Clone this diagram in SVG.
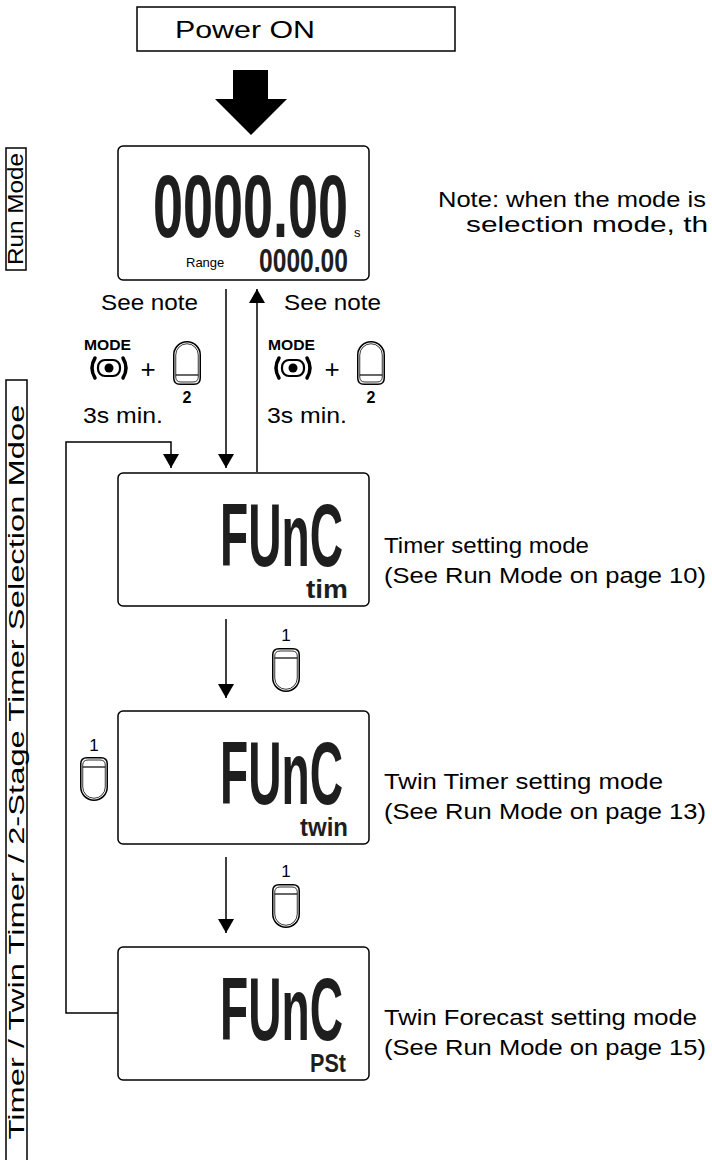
<svg xmlns="http://www.w3.org/2000/svg" xmlns:xlink="http://www.w3.org/1999/xlink" width="712" height="1160" viewBox="0 0 712 1160">
<style>
.t{font-family:"Liberation Sans",Arial,sans-serif;fill:#000}
.lbl{font-size:22px}
.box{fill:#fff;stroke:#000;stroke-width:1.5}
.lcd{fill:#fff;stroke:#000;stroke-width:1.5}
.seg{font-family:"Liberation Sans",Arial,sans-serif;fill:#1e1e1e}
.ln{fill:none;stroke:#000;stroke-width:1.5}
</style>
<defs>
<marker id="ah" viewBox="0 0 14 16" refX="14" refY="8" markerWidth="14" markerHeight="16" markerUnits="userSpaceOnUse" orient="auto"><path d="M0,0 L14,8 L0,16 z" fill="#000"/></marker>
<g id="modeIcon">
<rect x="-11" y="-8" width="22" height="16" rx="7" fill="none" stroke="#000" stroke-width="2.2"/>
<circle r="4.5" fill="#000"/>
<path d="M-14,-10 Q-20,0 -14,10" fill="none" stroke="#000" stroke-width="3.5" stroke-linecap="round"/>
<path d="M14,-10 Q20,0 14,10" fill="none" stroke="#000" stroke-width="3.5" stroke-linecap="round"/>
</g>
<g id="pbtn">
<path d="M0.75,14 A13.25,13.25 0 0 1 27.25,14 V37 Q27.25,43.25 21,43.25 H7 Q0.75,43.25 0.75,37 Z" fill="#fff" stroke="#000" stroke-width="1.5"/>
<path d="M2.75,14 A11.25,11.25 0 0 1 25.25,14 V36 Q25.25,41 20,41 H8 Q2.75,41 2.75,36 Z" fill="none" stroke="#000" stroke-width="0.8"/>
<line x1="2.75" y1="34" x2="25.25" y2="34" stroke="#000" stroke-width="1.2"/>
</g>
</defs>

<g id="power-on">
<rect class="box" x="137" y="7" width="318" height="44"/>
<text class="t" font-size="23" x="175" y="38" textLength="140" lengthAdjust="spacingAndGlyphs">Power ON</text>
</g>

<g id="start-arrow">
<polygon points="233,70 268,70 268,99 287,99 251,135 215,99 233,99" fill="#000"/>
</g>

<g id="label-run-mode">
<rect class="box" x="6" y="148" width="20" height="122"/>
<text class="t lbl" transform="translate(23,209) rotate(-90)" text-anchor="middle" textLength="112" lengthAdjust="spacingAndGlyphs">Run Mode</text>
</g>

<g id="label-selection-mode">
<rect class="box" x="6" y="380" width="21" height="790"/>
<text class="t lbl" transform="translate(24,772) rotate(-90)" text-anchor="middle" textLength="735" lengthAdjust="spacingAndGlyphs">Timer / Twin Timer / 2-Stage Timer Selection Mdoe</text>
</g>

<g id="run-mode-display">
<rect class="lcd" x="118" y="146" width="251" height="134" rx="5"/>
<text class="seg" x="153" y="237" font-size="89" font-weight="bold" textLength="195" lengthAdjust="spacingAndGlyphs">0000.00</text>
<text class="t" x="354" y="237" font-size="13">s</text>
<text class="t" x="186" y="267" font-size="13">Range</text>
<text class="seg" x="259" y="272" font-size="33" font-weight="bold" textLength="89" lengthAdjust="spacingAndGlyphs">0000.00</text>
</g>

<g id="note">
<text class="t lbl" x="438" y="207" textLength="268" lengthAdjust="spacingAndGlyphs">Note: when the mode is</text>
<text class="t lbl" x="466" y="232" textLength="242" lengthAdjust="spacingAndGlyphs">selection mode, th</text>
</g>

<g id="key-to-selection">
<text class="t lbl" x="101" y="310" textLength="97" lengthAdjust="spacingAndGlyphs">See note</text>
<text class="t" x="84" y="350" font-size="15" font-weight="bold" textLength="47" lengthAdjust="spacingAndGlyphs">MODE</text>
<use xlink:href="#modeIcon" transform="translate(109,368)"/>
<text class="t" x="148" y="378" font-size="26" text-anchor="middle" font-weight="200">+</text>
<use xlink:href="#pbtn" transform="translate(173,341)"/>
<text class="t" x="187" y="403" font-size="16" font-weight="bold" text-anchor="middle">2</text>
<text class="t lbl" x="83" y="423" textLength="80" lengthAdjust="spacingAndGlyphs">3s min.</text>
</g>

<g id="key-to-run">
<text class="t lbl" x="284" y="310" textLength="97" lengthAdjust="spacingAndGlyphs">See note</text>
<text class="t" x="268" y="350" font-size="15" font-weight="bold" textLength="47" lengthAdjust="spacingAndGlyphs">MODE</text>
<use xlink:href="#modeIcon" transform="translate(293,368)"/>
<text class="t" x="332" y="378" font-size="26" text-anchor="middle" font-weight="200">+</text>
<use xlink:href="#pbtn" transform="translate(357,341)"/>
<text class="t" x="371" y="403" font-size="16" font-weight="bold" text-anchor="middle">2</text>
<text class="t lbl" x="267" y="423" textLength="80" lengthAdjust="spacingAndGlyphs">3s min.</text>
</g>

<g id="func-timer">
<rect class="lcd" x="118" y="473" width="251" height="133" rx="5"/>
<text class="seg" x="220" y="566" font-size="89" font-weight="bold" textLength="123" lengthAdjust="spacingAndGlyphs">FUnC</text>
<text class="seg" x="306" y="598" font-size="26" font-weight="bold" textLength="42" lengthAdjust="spacingAndGlyphs">tim</text>
<text class="t lbl" x="384" y="553" textLength="205" lengthAdjust="spacingAndGlyphs">Timer setting mode</text>
<text class="t lbl" x="384" y="583" textLength="322" lengthAdjust="spacingAndGlyphs">(See Run Mode on page 10)</text>
</g>

<g id="func-twin-timer">
<rect class="lcd" x="118" y="711" width="251" height="133" rx="5"/>
<text class="seg" x="220" y="804" font-size="89" font-weight="bold" textLength="123" lengthAdjust="spacingAndGlyphs">FUnC</text>
<text class="seg" x="300" y="836" font-size="26" font-weight="bold" textLength="48" lengthAdjust="spacingAndGlyphs">twin</text>
<text class="t lbl" x="384" y="789" textLength="279" lengthAdjust="spacingAndGlyphs">Twin Timer setting mode</text>
<text class="t lbl" x="384" y="819" textLength="322" lengthAdjust="spacingAndGlyphs">(See Run Mode on page 13)</text>
</g>

<g id="func-twin-forecast">
<rect class="lcd" x="118" y="947" width="251" height="133" rx="5"/>
<text class="seg" x="220" y="1040" font-size="89" font-weight="bold" textLength="123" lengthAdjust="spacingAndGlyphs">FUnC</text>
<text class="seg" x="310" y="1072" font-size="26" font-weight="bold" textLength="36" lengthAdjust="spacingAndGlyphs">PSt</text>
<text class="t lbl" x="384" y="1025" textLength="313" lengthAdjust="spacingAndGlyphs">Twin Forecast setting mode</text>
<text class="t lbl" x="384" y="1055" textLength="322" lengthAdjust="spacingAndGlyphs">(See Run Mode on page 15)</text>
</g>

<g id="key-next-1">
<use xlink:href="#pbtn" transform="translate(300,692) rotate(180)"/>
<text class="t" x="286" y="641" font-size="17" text-anchor="middle">1</text>
</g>
<g id="key-next-2">
<use xlink:href="#pbtn" transform="translate(300,928) rotate(180)"/>
<text class="t" x="286" y="877" font-size="17" text-anchor="middle">1</text>
</g>
<g id="key-back">
<use xlink:href="#pbtn" transform="translate(108,801) rotate(180)"/>
<text class="t" x="94" y="751" font-size="17" text-anchor="middle">1</text>
</g>

<g id="connectors">
<line class="ln" x1="226" y1="289" x2="226" y2="468" marker-end="url(#ah)"/>
<line class="ln" x1="257" y1="472" x2="257" y2="289" marker-end="url(#ah)"/>
<polyline class="ln" points="118,1013 66,1013 66,442 171,442 171,468" marker-end="url(#ah)"/>
<line class="ln" x1="226" y1="619" x2="226" y2="698" marker-end="url(#ah)"/>
<line class="ln" x1="226" y1="857" x2="226" y2="933" marker-end="url(#ah)"/>
</g>
</svg>
